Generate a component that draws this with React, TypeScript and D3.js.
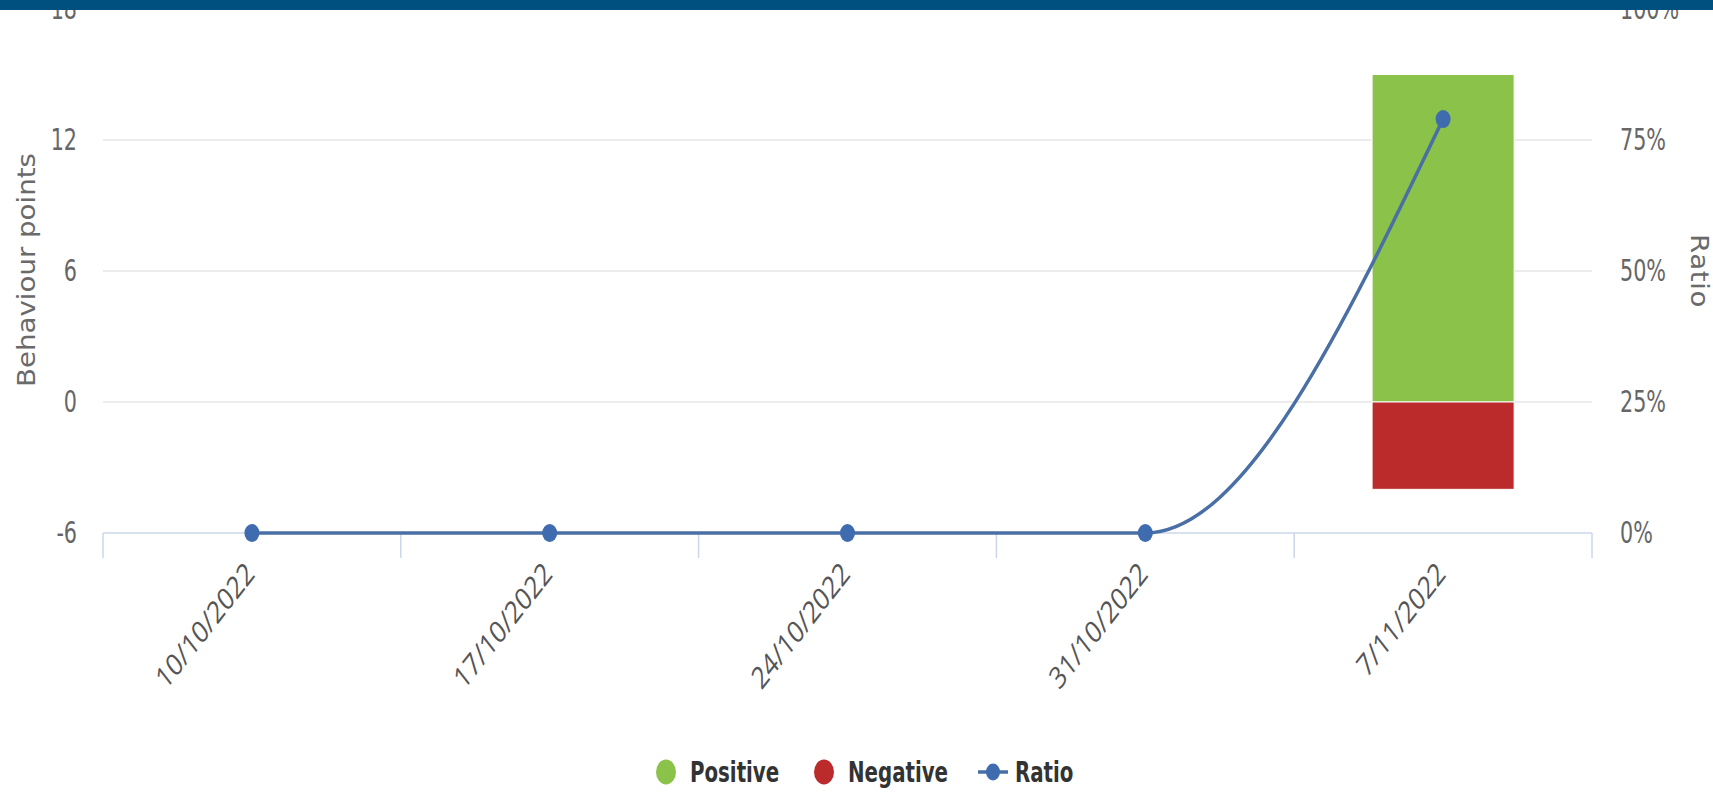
import React from "react";
import * as d3 from "d3";

const categories = ["10/10/2022", "17/10/2022", "24/10/2022", "31/10/2022", "7/11/2022"];
const positive = [0, 0, 0, 0, 15];
const negative = [0, 0, 0, 0, -4];
const ratio = [0, 0, 0, 0, 0.79];
const leftTicks = [-6, 0, 6, 12, 18];
const rightTicks = [0, 0.25, 0.5, 0.75, 1];

const W = 1713;
const H = 794;
const SY = 1.28;
const narrow = "'Liberation Sans Narrow', 'DejaVu Sans Condensed', 'Roboto', sans-serif";

export default function App() {
  const x = d3.scaleBand<string>().domain(categories).range([103, 1592]).padding(0);
  const bw = x.bandwidth();
  const barW = bw * 0.477;
  const y = d3.scaleLinear().domain([-6, 18]).range([533, 9]);
  const yr = d3.scaleLinear().domain([0, 1]).range([533, 9]);
  const cx = (c: string) => (x(c) as number) + bw / 2;

  const line = d3
    .line<number>()
    .x((_, i) => cx(categories[i]))
    .y((d) => yr(d))
    .curve(d3.curveMonotoneX);

  const tickXs = [...categories.map((c) => x(c) as number), 1592];

  return (
    <svg width={W} height={H} style={{ position: "absolute", left: 0, top: 0, background: "#fff" }}>
      {leftTicks.filter((t) => t !== -6).map((t) => (
        <line key={t} x1={103} x2={1592} y1={y(t)} y2={y(t)} stroke="#e6e6e6" strokeWidth={1.5} />
      ))}
      <line x1={103} x2={1592} y1={533} y2={533} stroke="#ccd6eb" strokeWidth={1.5} />
      {tickXs.map((tx, i) => (
        <line key={i} x1={tx} x2={tx} y1={533} y2={558} stroke="#ccd6eb" strokeWidth={1.5} />
      ))}
      {categories.map((c, i) =>
        positive[i] > 0 ? (
          <rect key={"p" + i} x={cx(c) - barW / 2} y={y(positive[i])} width={barW} height={y(0) - y(positive[i])} fill="#8bc34a" stroke="#fff" strokeWidth={1} />
        ) : null
      )}
      {categories.map((c, i) =>
        negative[i] < 0 ? (
          <rect key={"n" + i} x={cx(c) - barW / 2} y={y(0)} width={barW} height={y(negative[i]) - y(0)} fill="#bb2b2b" stroke="#fff" strokeWidth={1} />
        ) : null
      )}
      <path d={line(ratio) || ""} fill="none" stroke="#4a6fa5" strokeWidth={3.5} />
      {ratio.map((r, i) => (
        <ellipse key={i} cx={cx(categories[i])} cy={yr(r)} rx={7.5} ry={9} fill="#3f6cae" />
      ))}
      {leftTicks.map((t) => (
        <text key={t} transform={`translate(77,${y(t)}) scale(1,${SY})`} dy="0.35em" textAnchor="end" fontFamily={narrow} fontSize={23} fill="#666">
          {t}
        </text>
      ))}
      {rightTicks.map((t) => (
        <text key={t} transform={`translate(1620,${yr(t)}) scale(1,${SY})`} dy="0.35em" textAnchor="start" fontFamily={narrow} fontSize={23} fill="#666">
          {d3.format(".0%")(t)}
        </text>
      ))}
      {categories.map((c) => (
        <text key={c} transform={`translate(${cx(c) - 2},${568}) scale(1,${SY}) rotate(-45)`} dy="0.35em" textAnchor="end" fontFamily="'Open Sans', sans-serif" fontSize={24} fill="#555">
          {c}
        </text>
      ))}
      <text transform={`translate(27,270) scale(1,${SY}) rotate(-90)`} dy="0.35em" textAnchor="middle" fontFamily={narrow} fontSize={24} fill="#6a6a6a">
        Behaviour points
      </text>
      <text transform={`translate(1699,271) scale(1,${SY}) rotate(90)`} dy="0.35em" textAnchor="middle" fontFamily={narrow} fontSize={24} fill="#6a6a6a" letterSpacing={0.5}>
        Ratio
      </text>
      <rect x={0} y={0} width={W} height={10} fill="#00507f" />
      <g>
        <ellipse cx={666} cy={772} rx={10} ry={12.5} fill="#8bc34a" />
        <text transform={`translate(690,772) scale(1,${SY})`} dy="0.35em" fontFamily={narrow} fontWeight="bold" fontSize={22} fill="#333">Positive</text>
        <ellipse cx={824} cy={772} rx={10} ry={12.5} fill="#bb2b2b" />
        <text transform={`translate(848,772) scale(1,${SY})`} dy="0.35em" fontFamily={narrow} fontWeight="bold" fontSize={22} fill="#333">Negative</text>
        <line x1={978} x2={1008} y1={772} y2={772} stroke="#4a6fa5" strokeWidth={3.5} />
        <ellipse cx={993} cy={772} rx={7} ry={8.5} fill="#3f6cae" />
        <text transform={`translate(1015,772) scale(1,${SY})`} dy="0.35em" fontFamily={narrow} fontWeight="bold" fontSize={22} fill="#333">Ratio</text>
      </g>
    </svg>
  );
}
